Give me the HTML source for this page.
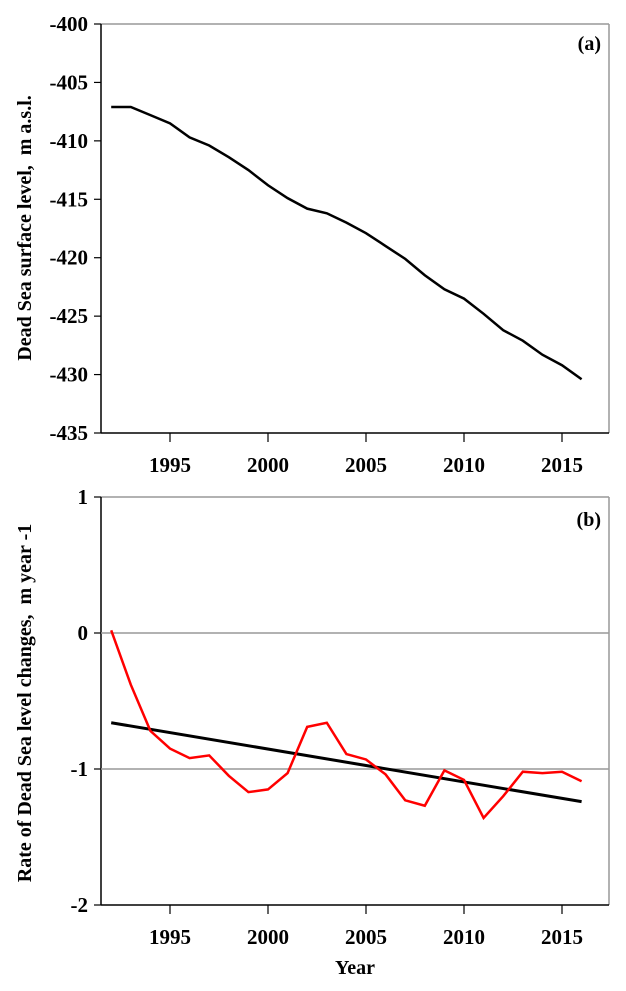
<!DOCTYPE html>
<html><head><meta charset="utf-8"><style>
body{margin:0;background:#fff}
svg text{font-family:"Liberation Serif",serif;font-weight:bold;fill:#000;white-space:pre}
</style></head><body>
<svg width="626" height="986">
<g id="pa"></g>
<g id="pb"></g>
</svg>
<script>
const years=[1992,1993,1994,1995,1996,1997,1998,1999,2000,2001,2002,2003,2004,2005,2006,2007,2008,2009,2010,2011,2012,2013,2014,2015,2016];
const levelValues=[-407.1,-407.1,-407.8,-408.5,-409.7,-410.4,-411.4,-412.5,-413.8,-414.9,-415.8,-416.2,-417.0,-417.9,-419.0,-420.1,-421.5,-422.7,-423.5,-424.8,-426.2,-427.1,-428.3,-429.2,-430.4];
const rateValues=[0.02,-0.38,-0.72,-0.85,-0.92,-0.90,-1.05,-1.17,-1.15,-1.03,-0.69,-0.66,-0.89,-0.93,-1.04,-1.23,-1.27,-1.01,-1.08,-1.36,-1.20,-1.02,-1.03,-1.02,-1.09];
const trendStart=-0.66, trendEnd=-1.24;
const xTicks=[1995,2000,2005,2010,2015];
const aTicks=[-400,-405,-410,-415,-420,-425,-430,-435];
const bTicks=[1,0,-1,-2];
const NS="http://www.w3.org/2000/svg";
function X(y){return 170+(y-1995)*19.6;}
function YA(v){return 24+(-400-v)*(433-24)/35;}
function YB(v){return 633-v*136;}
function mk(p,t,a){const e=document.createElementNS(NS,t);for(const k in a)e.setAttribute(k,a[k]);p.appendChild(e);return e;}
const L=101,R=609;
function frame(g,top,bot,name){
 let e=mk(g,'line',{x1:L,y1:top,x2:R,y2:top,stroke:'#999','stroke-width':1.5});
 
 e=mk(g,'line',{x1:R,y1:top,x2:R,y2:bot,stroke:'#999','stroke-width':1.5});
 
 e=mk(g,'line',{x1:L,y1:top,x2:L,y2:bot,stroke:'#000','stroke-width':1.5});
 
 e=mk(g,'line',{x1:L,y1:bot,x2:R,y2:bot,stroke:'#000','stroke-width':1.5});
 
 xTicks.forEach(t=>{
  let l=mk(g,'line',{x1:X(t),y1:bot,x2:X(t),y2:bot+9,stroke:'#000','stroke-width':1.2});
  
  let tx=mk(g,'text',{x:X(t),y:bot+39,'text-anchor':'middle','font-size':21});tx.textContent=t;
  
 });
}
function yt(g,v,y){
 let l=mk(g,'line',{x1:L-7,y1:y,x2:L,y2:y,stroke:'#000','stroke-width':1.2});
 
 let t=mk(g,'text',{x:L-13,y:y+7,'text-anchor':'end','font-size':21});t.textContent=v;
 
}
const pa=document.getElementById('pa'),pb=document.getElementById('pb');
frame(pa,24,433,'panel-a');
aTicks.forEach(v=>yt(pa,v,YA(v)));
let p=mk(pa,'polyline',{points:years.map((y,i)=>X(y)+','+YA(levelValues[i])).join(' '),fill:'none',stroke:'#000','stroke-width':2.5});

let t=mk(pa,'text',{x:601,y:50,'text-anchor':'end','font-size':20});t.textContent='(a)';

t=mk(pa,'text',{x:0,y:0,'text-anchor':'middle','font-size':20,transform:'translate(31,228) rotate(-90)'});t.textContent='Dead Sea surface level,  m a.s.l.';


frame(pb,497,905,'panel-b');
[0,-1].forEach(v=>{let g=mk(pb,'line',{x1:L,y1:YB(v),x2:R,y2:YB(v),stroke:'#999','stroke-width':1.5});
 });
bTicks.forEach(v=>yt(pb,v,YB(v)));
p=mk(pb,'line',{x1:X(years[0]),y1:YB(trendStart),x2:X(years[years.length-1]),y2:YB(trendEnd),stroke:'#000','stroke-width':3});

p=mk(pb,'polyline',{points:years.map((y,i)=>X(y)+','+YB(rateValues[i])).join(' '),fill:'none',stroke:'#f00','stroke-width':2.5});

t=mk(pb,'text',{x:601,y:526,'text-anchor':'end','font-size':20});t.textContent='(b)';

t=mk(pb,'text',{x:0,y:0,'text-anchor':'middle','font-size':20,transform:'translate(31,703) rotate(-90)'});t.textContent='Rate of Dead Sea level changes,  m year -1';

t=mk(pb,'text',{x:355,y:974,'text-anchor':'middle','font-size':20});t.textContent='Year';

</script>
</body></html>
